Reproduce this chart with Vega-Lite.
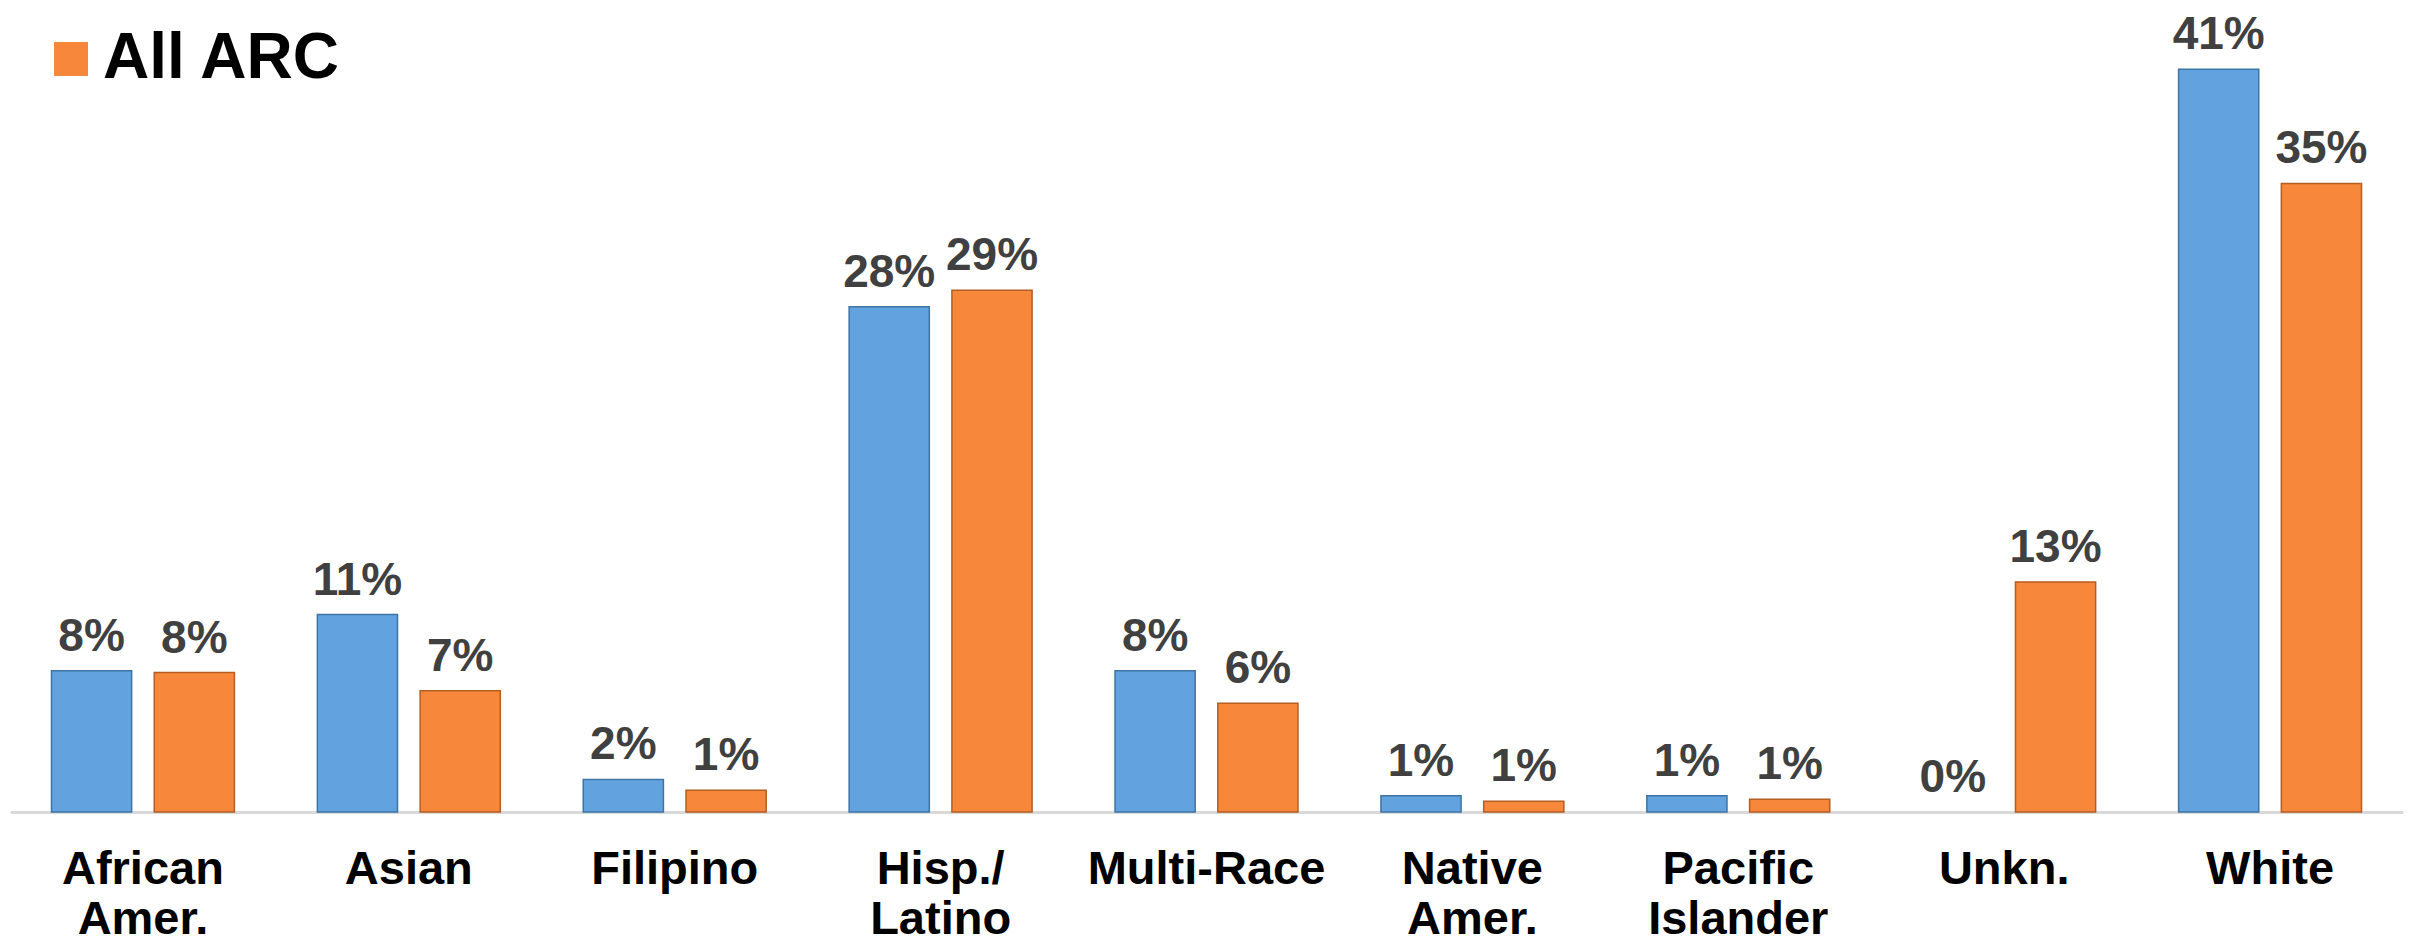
{
  "$schema": "https://vega.github.io/schema/vega-lite/v6.json",
  "width": 2393,
  "height": 797,
  "autosize": {"type": "none"},
  "padding": {"left": 10, "top": 15, "right": 7, "bottom": 134},
  "background": "white",
  "config": {"view": {"stroke": null}, "font": "Liberation Sans"},
  "data": {
    "values": [
      {"group": "African Amer.", "series": "Region", "value": 0.078},
      {"group": "African Amer.", "series": "All ARC", "value": 0.077},
      {"group": "Asian", "series": "Region", "value": 0.109},
      {"group": "Asian", "series": "All ARC", "value": 0.067},
      {"group": "Filipino", "series": "Region", "value": 0.018},
      {"group": "Filipino", "series": "All ARC", "value": 0.012},
      {"group": "Hisp./ Latino", "series": "Region", "value": 0.279},
      {"group": "Hisp./ Latino", "series": "All ARC", "value": 0.288},
      {"group": "Multi-Race", "series": "Region", "value": 0.078},
      {"group": "Multi-Race", "series": "All ARC", "value": 0.06},
      {"group": "Native Amer.", "series": "Region", "value": 0.009},
      {"group": "Native Amer.", "series": "All ARC", "value": 0.006},
      {"group": "Pacific Islander", "series": "Region", "value": 0.009},
      {"group": "Pacific Islander", "series": "All ARC", "value": 0.007},
      {"group": "Unkn.", "series": "Region", "value": 0},
      {"group": "Unkn.", "series": "All ARC", "value": 0.127},
      {"group": "White", "series": "Region", "value": 0.41},
      {"group": "White", "series": "All ARC", "value": 0.347}
    ]
  },
  "encoding": {
    "x": {
      "field": "group",
      "type": "nominal",
      "sort": ["African Amer.", "Asian", "Filipino", "Hisp./ Latino", "Multi-Race", "Native Amer.", "Pacific Islander", "Unkn.", "White"],
      "scale": {"paddingInner": 0.312, "paddingOuter": 0.156},
      "axis": {
        "title": null,
        "labelAngle": 0,
        "labelExpr": "split(datum.label, ' ')",
        "labelFont": "Liberation Sans",
        "labelFontSize": 47,
        "labelFontWeight": "bold",
        "labelColor": "#000000",
        "labelLineHeight": 50,
        "labelPadding": 34,
        "labelLimit": 0,
        "ticks": false,
        "domainColor": "#d9d9d9",
        "domainWidth": 3,
        "labelOverlap": false
      }
    },
    "xOffset": {"field": "series", "type": "nominal", "sort": ["Region", "All ARC"], "scale": {"paddingInner": 0.22}},
    "y": {"field": "value", "type": "quantitative", "scale": {"domain": [0, 0.44]}, "axis": null}
  },
  "layer": [
    {
      "transform": [{"filter": "datum.value > 0"}],
      "mark": {"type": "bar", "strokeWidth": 1.5},
      "encoding": {
        "color": {
          "field": "series",
          "type": "nominal",
          "scale": {"domain": ["Region", "All ARC"], "range": ["#62A3DF", "#F7873A"]},
          "legend": {
            "values": ["All ARC"],
            "title": null,
            "orient": "none",
            "legendX": 29,
            "legendY": 12,
            "padding": 0,
            "symbolType": "square",
            "symbolSize": 1156,
            "symbolStrokeWidth": 0,
            "labelFont": "Liberation Sans",
            "labelFontSize": 64,
            "labelFontWeight": "bold",
            "labelColor": "#000000",
            "labelOffset": 0,
            "labelLimit": 0
          }
        },
        "stroke": {
          "field": "series",
          "type": "nominal",
          "scale": {"domain": ["Region", "All ARC"], "range": ["#3F74A6", "#B45E22"]},
          "legend": null
        }
      }
    },
    {
      "mark": {"type": "text", "baseline": "alphabetic", "dy": -20, "fontSize": 46, "fontWeight": "bold", "color": "#404040", "font": "Liberation Sans"},
      "encoding": {"text": {"field": "value", "type": "quantitative", "format": ".0%"}}
    }
  ]
}
